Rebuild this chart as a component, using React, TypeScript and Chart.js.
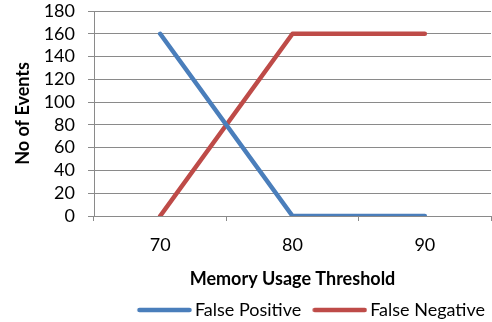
import React, { useEffect, useRef } from "react";
import { Chart, registerables } from "chart.js";

Chart.register(...registerables);

const categories = ["70", "80", "90"];
const falsePositive = [160, 0, 0];
const falseNegative = [0, 160, 160];
const yTicks = [0, 20, 40, 60, 80, 100, 120, 140, 160, 180];

const FONT = "Lato, 'Liberation Sans', sans-serif";
const GRID = "#8a8a8a";
const BLUE = "#4a7ebb";
const RED = "#be4b48";

function legendLine(color: string) {
  const c = document.createElement("canvas");
  c.width = 66;
  c.height = 8;
  const g = c.getContext("2d")!;
  g.strokeStyle = color;
  g.lineWidth = 4.5;
  g.lineCap = "round";
  g.beginPath();
  g.moveTo(13.5, 4);
  g.lineTo(63.5, 4);
  g.stroke();
  return c;
}

export default function App() {
  const ref = useRef<HTMLCanvasElement | null>(null);
  useEffect(() => {
    document.body.style.margin = "0";
    const ctx = ref.current!;
    const chart = new Chart(ctx, {
      type: "line",
      data: {
        labels: categories,
        datasets: [
          {
            label: "False Positive",
            data: falsePositive,
            borderColor: BLUE,
            backgroundColor: BLUE,
            borderWidth: 4.5,
            borderCapStyle: "round",
            borderJoinStyle: "round",
            pointRadius: 0,
            pointStyle: legendLine(BLUE) as any,
            tension: 0,
          },
          {
            label: "False Negative",
            data: falseNegative,
            borderColor: RED,
            backgroundColor: RED,
            borderWidth: 4.5,
            borderCapStyle: "round",
            borderJoinStyle: "round",
            pointRadius: 0,
            pointStyle: legendLine(RED) as any,
            tension: 0,
          },
        ],
      },
      options: {
        animation: false,
        responsive: false,
        maintainAspectRatio: false,
        layout: { padding: { top: 11, right: 1, left: 0, bottom: -7 } },
        plugins: {
          tooltip: { enabled: false },
          legend: {
            position: "bottom",
            align: "end",
            labels: {
              usePointStyle: true,
              pointStyleWidth: 54,
              boxHeight: 10,
              padding: 6,
              color: "#000",
              font: { family: FONT, size: 18 },
            },
          },
        },
        scales: {
          x: {
            type: "category",
            offset: true,
            grid: {
              offset: true,
              drawOnChartArea: false,
              drawTicks: true,
              tickLength: 5,
              color: GRID,
            },
            border: { color: GRID, width: 1 },
            ticks: {
              color: "#000",
              padding: 13,
              autoSkip: false,
              maxRotation: 0,
              font: { family: FONT, size: 18 },
            },
            title: {
              display: true,
              text: "Memory Usage Threshold",
              color: "#000",
              font: { family: FONT, size: 18, weight: "bold" },
              padding: { top: 0, bottom: 5 },
            },
            afterFit: (s: any) => {
              s.height = 79;
              s.paddingLeft = 0;
              s.paddingRight = 0;
            },
          },
          y: {
            min: 0,
            max: 180,
            afterBuildTicks: (s: any) => {
              s.ticks = yTicks.map((v) => ({ value: v }));
            },
            grid: {
              color: GRID,
              tickLength: 6,
              drawTicks: true,
            },
            border: { color: GRID, width: 1 },
            ticks: {
              color: "#000",
              padding: 13,
              autoSkip: false,
              font: { family: FONT, size: 18 },
            },
            title: {
              display: true,
              text: "No of Events",
              color: "#000",
              font: { family: FONT, size: 18, weight: "bold" },
              padding: { top: 12, bottom: 4 },
            },
            afterFit: (s: any) => {
              s.width = 94;
              s.paddingTop = 0;
              s.paddingBottom = 0;
            },
          },
        },
      },
    });
    return () => chart.destroy();
  }, []);
  return (
    <div style={{ position: "fixed", left: 0, top: 0, width: 492, height: 322 }}>
      <canvas ref={ref} width={492} height={322} style={{ width: 492, height: 322 }} />
    </div>
  );
}
